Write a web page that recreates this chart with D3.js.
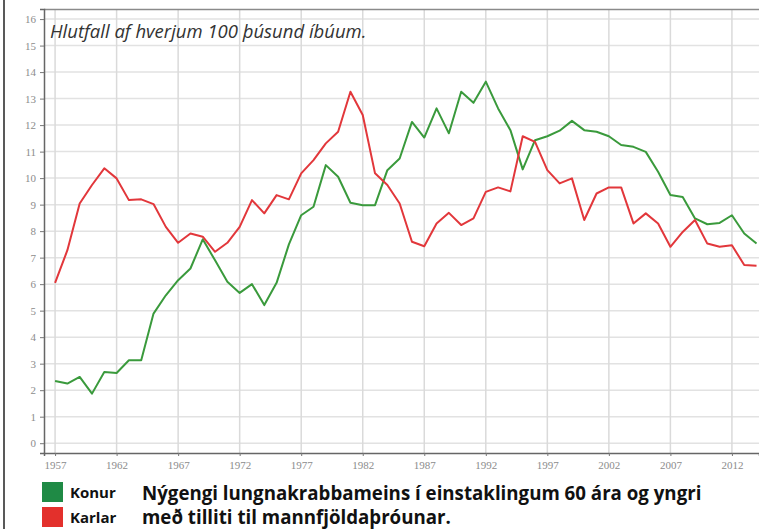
<!DOCTYPE html>
<html>
<head>
<meta charset="utf-8">
<script src="https://cdn.jsdelivr.net/npm/d3@7"></script>
<style>
  body { margin: 0; background: #fff; }
  svg { display: block; }
</style>
</head>
<body>
<script>
// years 1957 - 2014
const years = d3.range(1957, 2015);
const konur = [2.35, 2.25, 2.5, 1.87, 2.69, 2.65, 3.13, 3.13, 4.89, 5.58,
               6.15, 6.59, 7.69, 6.9, 6.09, 5.67, 6.0, 5.21, 6.05, 7.5,
               8.6, 8.92, 10.49, 10.05, 9.07, 8.98, 8.98, 10.3, 10.74, 12.12,
               11.53, 12.63, 11.69, 13.26, 12.84, 13.64, 12.63, 11.81, 10.33, 11.43,
               11.58, 11.79, 12.16, 11.81, 11.75, 11.58, 11.25, 11.18, 10.99, 10.24,
               9.36, 9.29, 8.48, 8.26, 8.31, 8.6, 7.91, 7.53];
const karlar = [6.05, 7.28, 9.04, 9.74, 10.37, 9.99, 9.17, 9.2, 9.02, 8.16,
                7.56, 7.91, 7.79, 7.22, 7.56, 8.16, 9.17, 8.67, 9.36, 9.2,
                10.18, 10.68, 11.31, 11.75, 13.26, 12.38, 10.18, 9.74, 9.04, 7.6,
                7.43, 8.29, 8.69, 8.23, 8.48, 9.48, 9.65, 9.5, 11.58, 11.37,
                10.3, 9.8, 9.99, 8.42, 9.42, 9.65, 9.65, 8.29, 8.67, 8.29,
                7.41, 7.97, 8.42, 7.53, 7.41, 7.47, 6.72, 6.69];
const yTicks = d3.range(0, 17);
const xTicks = [1957, 1962, 1967, 1972, 1977, 1982, 1987, 1992, 1997, 2002, 2007, 2012];
const series = [
  {name: "Konur", values: konur, color: "#3a9a3c", swatch: "#1f8a45"},
  {name: "Karlar", values: karlar, color: "#e2373b", swatch: "#e3302c"}
];

const width = 759, height = 529;
const svg = d3.select("body").append("svg")
  .attr("width", width).attr("height", height);

const x = d3.scaleLinear().domain([1956.1, 2014.2]).range([44, 759]);
const y = d3.scaleLinear().domain([-0.37, 16.38]).range([453, 9]);

// outer left border
svg.append("line").attr("x1", 4).attr("x2", 4).attr("y1", 0).attr("y2", height)
  .attr("stroke", "#222").attr("stroke-width", 1.5);

// grid
svg.append("g").selectAll("line").data(yTicks).enter().append("line")
  .attr("x1", 44).attr("x2", 759)
  .attr("y1", d => y(d)).attr("y2", d => y(d))
  .attr("stroke", "#e2e2e2").attr("stroke-width", 1.5);
svg.append("g").selectAll("line").data(xTicks).enter().append("line")
  .attr("x1", d => x(d)).attr("x2", d => x(d))
  .attr("y1", 9).attr("y2", 453)
  .attr("stroke", "#dadada").attr("stroke-width", 1.5);

// top frame
svg.append("line").attr("x1", 44).attr("x2", 759).attr("y1", 9.5).attr("y2", 9.5)
  .attr("stroke", "#8a8a8a").attr("stroke-width", 1.5);

// axes
const yAxis = d3.axisLeft(y).tickValues(yTicks).tickSize(4).tickPadding(4);
const xAxis = d3.axisBottom(x).tickValues(xTicks).tickFormat(d3.format("d")).tickSize(3).tickPadding(5);

const gy = svg.append("g").attr("transform", "translate(44,0)").call(yAxis);
const gx = svg.append("g").attr("transform", "translate(0,453)").call(xAxis);
[gy, gx].forEach(g => {
  g.select(".domain").attr("stroke", "#666").attr("stroke-width", 1.5);
  g.selectAll(".tick line").attr("stroke", "#777");
  g.selectAll("text").attr("fill", "#8c8c8c")
    .style("font-family", "'Liberation Serif', serif").style("font-size", "11px");
});

// lines
const line = d3.line().x((d, i) => x(years[i])).y(d => y(d));
series.forEach(s => {
  svg.append("path").datum(s.values)
    .attr("d", line)
    .attr("fill", "none")
    .attr("stroke", s.color)
    .attr("stroke-width", 2)
    .attr("stroke-linejoin", "round");
});

// title inside plot
svg.append("text").attr("x", 50).attr("y", 38)
  .text("Hlutfall af hverjum 100 þúsund íbúum.")
  .attr("fill", "#333")
  .style("font-family", "'Open Sans', sans-serif").style("font-style", "italic")
  .style("font-size", "18.5px");

// legend
series.forEach((s, i) => {
  svg.append("rect").attr("x", 42).attr("y", 482 + i * 25)
    .attr("width", 21).attr("height", 20).attr("fill", s.swatch);
  svg.append("text").attr("x", 70).attr("y", 498 + i * 25)
    .text(s.name)
    .attr("fill", "#111")
    .style("font-family", "'Open Sans', sans-serif").style("font-weight", "bold")
    .style("font-size", "15px");
});

const caption = ["Nýgengi lungnakrabbameins í einstaklingum 60 ára og yngri",
                 "með tilliti til mannfjöldaþróunar."];
caption.forEach((c, i) => {
  svg.append("text").attr("x", 142).attr("y", 500 + i * 24)
    .text(c)
    .attr("fill", "#111")
    .style("font-family", "'Open Sans', sans-serif").style("font-weight", "bold")
    .style("font-size", "18.7px");
});
</script>
</body>
</html>
